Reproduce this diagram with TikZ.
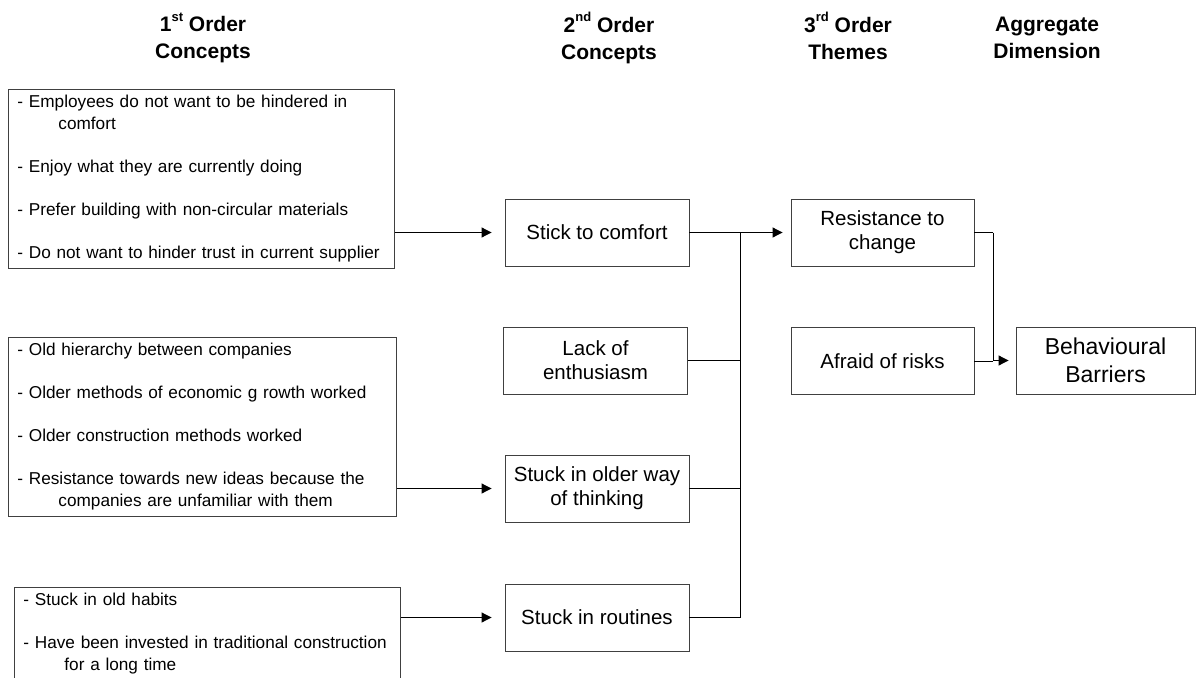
\documentclass[tikz,border=0pt]{standalone}
\usepackage{fontspec}
\setmainfont{Liberation Sans}
\usetikzlibrary{arrows.meta}

\newcommand{\ordsup}[1]{\raisebox{0.5em}{\fontsize{13}{13}\selectfont\bfseries #1}}

\tikzset{
  head/.style={align=center, font=\fontsize{21}{27}\selectfont\bfseries},
  listbox/.style={draw=black!75, line width=0.9pt, anchor=north west,
    align=left, inner xsep=9pt, inner ysep=6pt,
    font=\fontsize{17.2}{21.5}\selectfont},
  conceptbox/.style={draw=black!75, line width=0.9pt, align=center,
    minimum width=184pt, minimum height=67pt, inner sep=2pt,
    font=\fontsize{20.5}{24}\selectfont},
  aggbox/.style={conceptbox, minimum width=179pt,
    font=\fontsize{23}{28}\selectfont},
  link/.style={draw=black, line width=1pt},
  arr/.style={link, -{Triangle[length=10pt,width=10pt]}},
}

\begin{document}
\begin{tikzpicture}[x=1pt, y=-1pt]
\useasboundingbox (0,0) rectangle (1196,677);

% column headings
\node[head] (h1) at (203,40) {\strut1\ordsup{st} Order\\\strut Concepts};
\node[head] (h2) at (609,40) {\strut2\ordsup{nd} Order\\\strut Concepts};
\node[head] (h3) at (848,40) {\strut3\ordsup{rd} Order\\\strut Themes};
\node[head] (h4) at (1047,40) {\strut Aggregate\\\strut Dimension};

% first order concept lists
\node[listbox, text width=368pt, minimum height=177pt] (c1) at (8,89)
  {- Employees do not want to be hindered in\\\hspace*{41pt}comfort\\[21.5pt]
   - Enjoy what they are currently doing\\[21.5pt]
   - Prefer building with non-circular materials\\[21.5pt]
   - Do not want to hinder trust in current supplier};
\node[listbox, text width=370pt, minimum height=177pt] (c2) at (8,337)
  {- Old hierarchy between companies\\[21.5pt]
   - Older methods of economic g rowth worked\\[21.5pt]
   - Older construction methods worked\\[21.5pt]
   - Resistance towards new ideas because the\\\hspace*{41pt}companies are unfamiliar with them};
\node[listbox, text width=368pt] (c3) at (14,587)
  {- Stuck in old habits\\[21.5pt]
   - Have been invested in traditional construction\\\hspace*{41pt}for a long time};

% second order concepts
\node[conceptbox] (stick) at (597,232.5) {Stick to comfort};
\node[conceptbox] (lack) at (595.5,360.5) {Lack of\\enthusiasm};
\node[conceptbox] (older) at (597,488.5) {Stuck in older way\\of thinking};
\node[conceptbox] (routine) at (597,617.5) {Stuck in routines};

% third order themes
\node[conceptbox, minimum width=183pt] (resist) at (882.5,232.5) {Resistance to\\change};
\node[conceptbox, minimum width=183pt] (afraid) at (882.5,361) {Afraid of risks};

% aggregate dimension
\node[aggbox] (bb) at (1105.5,360.5) {Behavioural\\Barriers};

% first order -> second order
\draw[arr, shorten >=13pt] (c1.east |- stick.west) -- (stick.west);
\draw[arr, shorten >=13pt] (c2.east |- older.west) -- (older.west);
\draw[arr, shorten >=13pt] (c3.east |- routine.west) -- (routine.west);

% second order -> third order
\coordinate (j) at (740,232.5);
\draw[link] (stick.east) -- (j);
\draw[link] (lack.east) -| (j);
\draw[link] (older.east) -| (j);
\draw[link] (routine.east) -| (j);
\draw[arr, shorten >=8pt] (j) -- (resist.west);

% third order -> aggregate dimension
\coordinate (k) at (993,232.5);
\draw[link] (resist.east) -- (k);
\draw[link] (afraid.east) -- (k |- afraid.east);
\draw[arr, shorten >=7pt] (k) |- (bb.west);
\end{tikzpicture}
\end{document}
